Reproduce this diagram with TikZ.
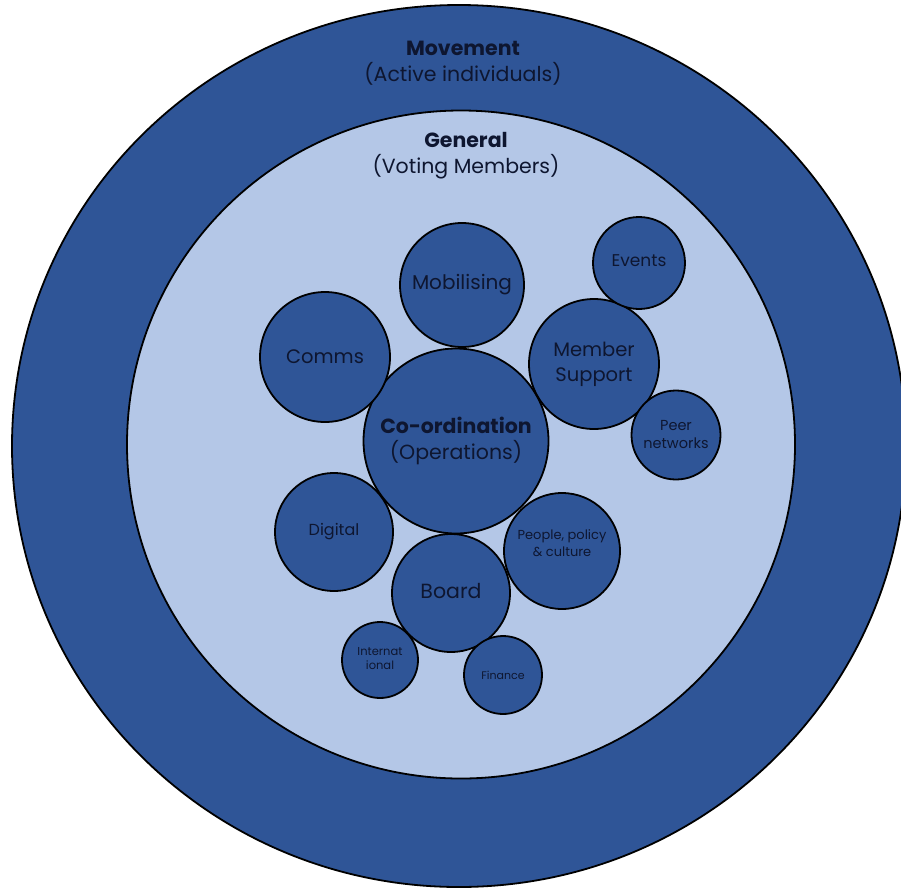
\documentclass[tikz,border=0pt]{standalone}
\usepackage{fontspec}
\setmainfont{Poppins}
\definecolor{darkblue}{HTML}{2F5597}
\definecolor{lightblue}{HTML}{B4C7E7}
\definecolor{labelc}{HTML}{0E1630}
\begin{document}
\begin{tikzpicture}[x=1pt,y=-1pt,
  ring/.style={draw=black,line width=1.8pt},
  bubble/.style={circle,draw=black,line width=1.8pt,fill=darkblue,text=labelc,align=center,inner sep=0pt,font=\fontsize{#1}{1.3\dimexpr#1pt\relax}\selectfont},
  title/.style={align=center,text=labelc,font=\fontsize{20.5}{26}\selectfont}]
\useasboundingbox (0,0) rectangle (901,889);
\fill[white] (0,0) rectangle (901,889);
\draw[ring,fill=darkblue] (459,446) ellipse [x radius=447, y radius=441];
\draw[ring,fill=lightblue] (461,444.5) circle [radius=334];
\node[title] (movement) at (463,63) {\textbf{Movement}\\(Active individuals)};
\node[title] (general) at (466,156) {\textbf{General}\\(Voting Members)};
\node[bubble=20.5,minimum size=185pt] (coord) at (456,441) {\textbf{Co-ordination}\\(Operations)};
\node[bubble=20,minimum size=124pt] (mob) at (462,285) {Mobilising};
\node[bubble=19.5,minimum size=130pt] (comms) at (325,357) {Comms};
\node[bubble=19.5,minimum size=130pt] (member) at (594,364) {Member\\Support};
\node[bubble=17,minimum size=92pt] (events) at (639,263) {\raisebox{4pt}{Events}};
\node[bubble=14.5,minimum size=89pt] (peer) at (676,435) {\raisebox{1pt}{Peer}\\\raisebox{1pt}{networks}};
\node[bubble=13,minimum size=116pt] (people) at (562,551) {\raisebox{-3pt}{People, policy}\\\raisebox{-3pt}{\& culture}\\[2pt]};
\node[bubble=16,minimum size=118pt] (digital) at (334,532) {\raisebox{3pt}{Digital}};
\node[bubble=20.5,minimum size=118pt] (board) at (451,593) {\raisebox{4pt}{Board}};
\node[bubble=11.5,minimum size=76pt] (intl) at (380,660) {\raisebox{3pt}{Internat}\\\raisebox{3pt}{ional}};
\node[bubble=11,minimum size=78pt] (finance) at (503,675) {Finance};
\end{tikzpicture}
\end{document}
